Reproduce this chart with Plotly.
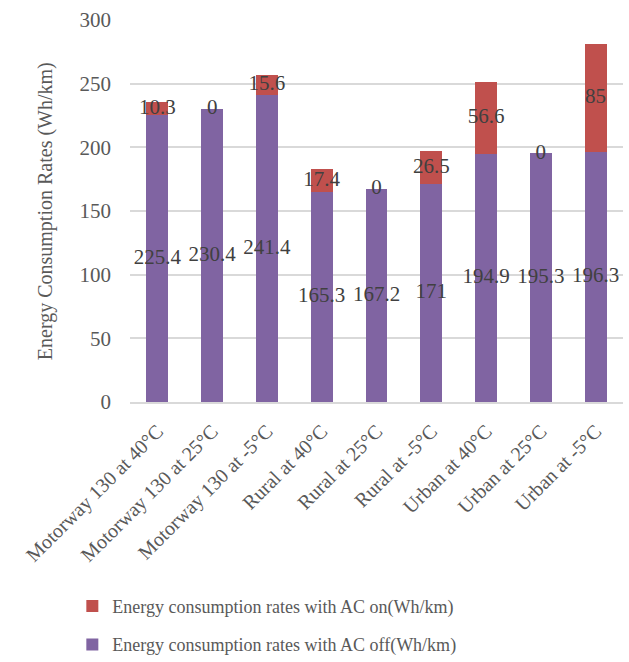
import plotly.graph_objects as go

# Driving cycle / ambient temperature combinations
categories = [
    "Motorway 130 at 40°C", "Motorway 130 at 25°C", "Motorway 130 at -5°C",
    "Rural at 40°C", "Rural at 25°C", "Rural at -5°C",
    "Urban at 40°C", "Urban at 25°C", "Urban at -5°C",
]
# Energy consumption with AC off (base) and the extra with AC on (Wh/km)
ac_off = [225.4, 230.4, 241.4, 165.3, 167.2, 171, 194.9, 195.3, 196.3]
ac_on = [10.3, 0, 15.6, 17.4, 0, 26.5, 56.6, 0, 85]

y_ticks = [0, 50, 100, 150, 200, 250, 300]

PURPLE = "#8064A2"
RED = "#C0504D"
FONT = "Liberation Serif, Times New Roman, serif"
TEXT = "#404040"
AXIS = "#595959"

fig = go.Figure()
fig.add_trace(go.Bar(
    x=categories, y=ac_off, name="Energy consumption rates with AC off(Wh/km)",
    marker=dict(color=PURPLE, line=dict(width=0)),
    legendgroup="off", legendrank=2,
))
fig.add_trace(go.Bar(
    x=categories, y=ac_on, name="Energy consumption rates with AC on(Wh/km)",
    marker=dict(color=RED, line=dict(width=0)),
    legendgroup="on", legendrank=1,
))

# value labels centred in each stacked segment
fig.add_trace(go.Scatter(
    x=categories, y=[v / 2 for v in ac_off], mode="text",
    text=[f"{v:g}" for v in ac_off], textposition="middle center",
    textfont=dict(family=FONT, size=21, color=TEXT),
    showlegend=False, hoverinfo="skip", cliponaxis=False,
))
fig.add_trace(go.Scatter(
    x=categories, y=[b + v / 2 for b, v in zip(ac_off, ac_on)], mode="text",
    text=[f"{v:g}" for v in ac_on], textposition="middle center",
    textfont=dict(family=FONT, size=21, color=TEXT),
    showlegend=False, hoverinfo="skip", cliponaxis=False,
))

fig.update_layout(
    width=629, height=662,
    barmode="stack", bargap=0.6,
    plot_bgcolor="white", paper_bgcolor="white",
    margin=dict(l=130, r=6, t=20, b=260, autoexpand=False),
    font=dict(family=FONT, size=20, color=AXIS),
    xaxis=dict(
        tickangle=-45, tickfont=dict(family=FONT, size=20, color=AXIS),
        showline=True, linecolor="#D9D9D9", linewidth=1.5,
        showgrid=False, ticks="", automargin=False, ticklabelstandoff=8,
    ),
    yaxis=dict(
        range=[0, 300], tickvals=y_ticks,
        tickfont=dict(family=FONT, size=21, color=AXIS),
        showgrid=True, gridcolor="#D9D9D9", gridwidth=1.5,
        zeroline=False, showline=False, ticks="", ticklabelstandoff=18,
        automargin=False,
    ),
    annotations=[dict(
        text="Energy Consumption Rates (Wh/km)", textangle=-90,
        xref="paper", yref="paper", x=-0.172, y=0.5,
        xanchor="center", yanchor="middle", showarrow=False,
        font=dict(family=FONT, size=20, color=AXIS),
    )],
    legend=dict(
        orientation="v", traceorder="grouped", tracegroupgap=12,
        x=0.115, xanchor="left", xref="container",
        y=0.112, yanchor="top", yref="container",
        font=dict(family=FONT, size=18, color=AXIS),
        itemwidth=30,
    ),
    showlegend=True,
)

fig.write_html("out.html")
